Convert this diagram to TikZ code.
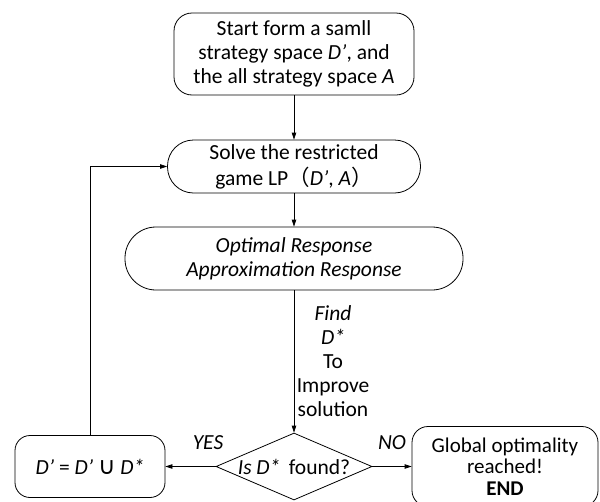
\documentclass[tikz,border=0pt]{standalone}
\usepackage{fontspec}
\setmainfont{Carlito}
\newfontfamily\cjk{Noto Sans CJK SC}
\newfontfamily\dvs{DejaVu Sans}
\usetikzlibrary{shapes.geometric,arrows.meta}
\begin{document}
\begin{tikzpicture}[x=1pt,y=-1pt,
  txt/.style={font=\fontsize{21.5}{24}\selectfont, align=center, inner sep=0pt},
  box/.style={txt, draw, line width=0.8pt},
  arr/.style={line width=0.8pt, -{Triangle[length=7pt,width=4.5pt]}}]
\useasboundingbox (0,0) rectangle (600,501);
\node[box, minimum width=240pt, minimum height=82pt, rounded corners=18pt] (start) at (294,54)
  {Start form a samll\\strategy space \textit{D’}, and\\the all strategy space \textit{A}};
\node[box, font=\fontsize{21.5}{26}\selectfont, minimum width=253pt, minimum height=53pt, rounded corners=26pt] (solve) at (294,166.5)
  {Solve the restricted\\game LP{\cjk （}\textit{D’}, \textit{A}{\cjk ）}};
\node[box, font=\fontsize{21.5}{24}\selectfont, minimum width=338pt, minimum height=63pt, rounded corners=31pt] (opt) at (294,258.5)
  {\textit{Optimal Response}\\\textit{Approximation Response}};
\node[draw, line width=0.8pt, diamond, aspect=2.33, inner sep=0pt, minimum width=156pt, minimum height=67pt] (dec) at (294,466.5) {};
\node[txt] (dectext) at (dec.center) {\textit{Is D*}\,\ found?};
\node[box, minimum width=150pt, minimum height=62pt, rounded corners=15pt] (left) at (90,466.5)
  {\textit{D’} = \textit{D’} {\dvs\fontsize{24}{24}\selectfont ∪} \textit{D*}};
\node[box, font=\fontsize{21}{21.5}\selectfont, minimum width=186pt, minimum height=80pt, rounded corners=16pt] (right) at (505,466.5)
  {Global optimality\\reached!\\\textbf{END}};
\node[txt] (yes) at (208,443) {\textit{YES}};
\node[txt] (no) at (392,443) {\textit{NO}};
\node[txt] (find) at (333,361) {\textit{Find}\\\textit{D*}\\To\\Improve\\solution};
\draw[arr] (start.south) -- (solve.north);
\draw[arr] (solve.south) -- (opt.north);
\draw[arr] (opt.south) -- (dec.north);
\draw[arr] (dec.west) -- (left.east);
\draw[arr] (dec.east) -- (right.west);
\draw[arr] (left.north) |- (solve.west);
\end{tikzpicture}
\end{document}
